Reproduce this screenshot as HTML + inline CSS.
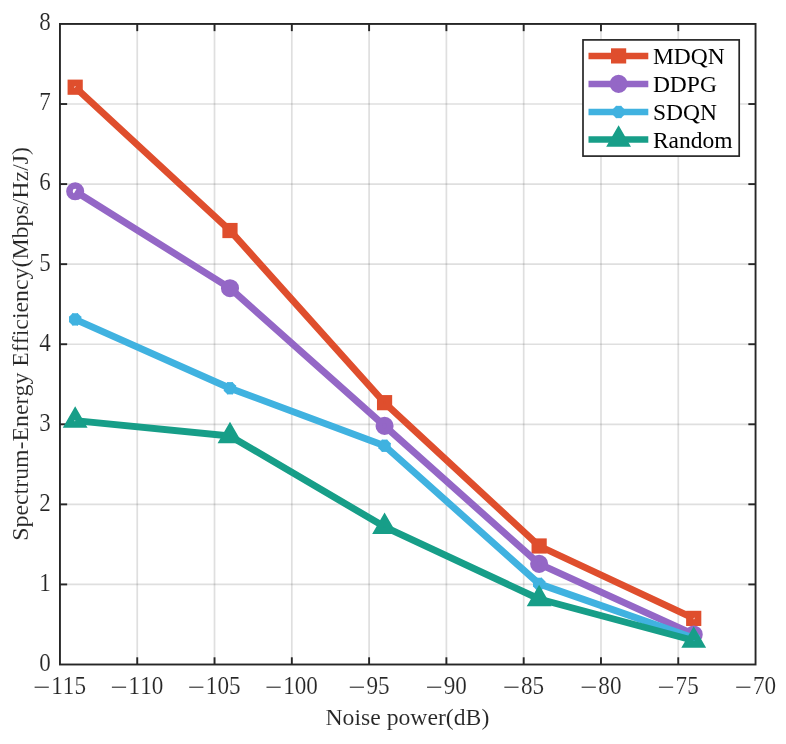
<!DOCTYPE html>
<html><head><meta charset="utf-8"><title>chart</title>
<style>
html,body{margin:0;padding:0;background:#fff;}
body{width:786px;height:744px;overflow:hidden;}
svg{display:block;will-change:transform;}
text{font-family:"Liberation Serif",serif;fill:#262626;font-kerning:none;}
.tk{stroke:#fff;stroke-width:0.15px;}
.lb{stroke:#fff;stroke-width:0.08px;}
</style></head><body>
<svg width="786" height="744" viewBox="0 0 786 744">
<rect x="0" y="0" width="786" height="744" fill="#ffffff"/>

<g stroke="#262626" stroke-opacity="0.15" stroke-width="1.7">
<line x1="137.24" y1="23.95" x2="137.24" y2="664.5"/>
<line x1="214.53" y1="23.95" x2="214.53" y2="664.5"/>
<line x1="291.82" y1="23.95" x2="291.82" y2="664.5"/>
<line x1="369.11" y1="23.95" x2="369.11" y2="664.5"/>
<line x1="446.39" y1="23.95" x2="446.39" y2="664.5"/>
<line x1="523.68" y1="23.95" x2="523.68" y2="664.5"/>
<line x1="600.97" y1="23.95" x2="600.97" y2="664.5"/>
<line x1="678.26" y1="23.95" x2="678.26" y2="664.5"/>
<line x1="59.95" y1="584.43" x2="755.55" y2="584.43"/>
<line x1="59.95" y1="504.36" x2="755.55" y2="504.36"/>
<line x1="59.95" y1="424.29" x2="755.55" y2="424.29"/>
<line x1="59.95" y1="344.23" x2="755.55" y2="344.23"/>
<line x1="59.95" y1="264.16" x2="755.55" y2="264.16"/>
<line x1="59.95" y1="184.09" x2="755.55" y2="184.09"/>
<line x1="59.95" y1="104.02" x2="755.55" y2="104.02"/>
</g>
<g stroke="#262626" stroke-width="1.9" fill="none">
<rect x="59.95" y="23.95" width="695.60" height="640.55"/>
<line x1="137.24" y1="664.5" x2="137.24" y2="657.3"/>
<line x1="137.24" y1="23.95" x2="137.24" y2="31.15"/>
<line x1="214.53" y1="664.5" x2="214.53" y2="657.3"/>
<line x1="214.53" y1="23.95" x2="214.53" y2="31.15"/>
<line x1="291.82" y1="664.5" x2="291.82" y2="657.3"/>
<line x1="291.82" y1="23.95" x2="291.82" y2="31.15"/>
<line x1="369.11" y1="664.5" x2="369.11" y2="657.3"/>
<line x1="369.11" y1="23.95" x2="369.11" y2="31.15"/>
<line x1="446.39" y1="664.5" x2="446.39" y2="657.3"/>
<line x1="446.39" y1="23.95" x2="446.39" y2="31.15"/>
<line x1="523.68" y1="664.5" x2="523.68" y2="657.3"/>
<line x1="523.68" y1="23.95" x2="523.68" y2="31.15"/>
<line x1="600.97" y1="664.5" x2="600.97" y2="657.3"/>
<line x1="600.97" y1="23.95" x2="600.97" y2="31.15"/>
<line x1="678.26" y1="664.5" x2="678.26" y2="657.3"/>
<line x1="678.26" y1="23.95" x2="678.26" y2="31.15"/>
<line x1="59.95" y1="584.43" x2="67.15" y2="584.43"/>
<line x1="755.55" y1="584.43" x2="748.3499999999999" y2="584.43"/>
<line x1="59.95" y1="504.36" x2="67.15" y2="504.36"/>
<line x1="755.55" y1="504.36" x2="748.3499999999999" y2="504.36"/>
<line x1="59.95" y1="424.29" x2="67.15" y2="424.29"/>
<line x1="755.55" y1="424.29" x2="748.3499999999999" y2="424.29"/>
<line x1="59.95" y1="344.23" x2="67.15" y2="344.23"/>
<line x1="755.55" y1="344.23" x2="748.3499999999999" y2="344.23"/>
<line x1="59.95" y1="264.16" x2="67.15" y2="264.16"/>
<line x1="755.55" y1="264.16" x2="748.3499999999999" y2="264.16"/>
<line x1="59.95" y1="184.09" x2="67.15" y2="184.09"/>
<line x1="755.55" y1="184.09" x2="748.3499999999999" y2="184.09"/>
<line x1="59.95" y1="104.02" x2="67.15" y2="104.02"/>
<line x1="755.55" y1="104.02" x2="748.3499999999999" y2="104.02"/>
</g>
<polyline fill="none" stroke="#DF4E2D" stroke-width="6.9" stroke-linejoin="round" points="75.18,87.20 229.99,230.53 384.56,402.68 539.14,546.00 693.72,618.38"/>
<rect x="71.00" y="83.03" width="8.35" height="8.35" fill="none" stroke="#DF4E2D" stroke-width="6.85"/>
<rect x="225.81" y="226.35" width="8.35" height="8.35" fill="none" stroke="#DF4E2D" stroke-width="6.85"/>
<rect x="380.39" y="398.50" width="8.35" height="8.35" fill="none" stroke="#DF4E2D" stroke-width="6.85"/>
<rect x="534.97" y="541.82" width="8.35" height="8.35" fill="none" stroke="#DF4E2D" stroke-width="6.85"/>
<rect x="689.54" y="614.21" width="8.35" height="8.35" fill="none" stroke="#DF4E2D" stroke-width="6.85"/>
<polyline fill="none" stroke="#9467C6" stroke-width="6.9" stroke-linejoin="round" points="75.18,191.29 229.99,288.18 384.56,425.90 539.14,563.85 693.72,634.47"/>
<circle cx="75.18" cy="191.29" r="5.75" fill="none" stroke="#9467C6" stroke-width="6.6"/>
<circle cx="229.99" cy="288.18" r="5.75" fill="none" stroke="#9467C6" stroke-width="6.6"/>
<circle cx="384.56" cy="425.90" r="5.75" fill="none" stroke="#9467C6" stroke-width="6.6"/>
<circle cx="539.14" cy="563.85" r="5.75" fill="none" stroke="#9467C6" stroke-width="6.6"/>
<circle cx="693.72" cy="634.47" r="5.75" fill="none" stroke="#9467C6" stroke-width="6.6"/>
<polyline fill="none" stroke="#40B2E0" stroke-width="6.9" stroke-linejoin="round" points="75.18,319.40 229.99,388.26 384.56,445.75 539.14,583.87 693.72,638.08"/>
<g stroke="#40B2E0" stroke-width="5.6"><line x1="69.03" y1="319.40" x2="81.33" y2="319.40"/><line x1="75.18" y1="313.25" x2="75.18" y2="325.55"/><line x1="70.83" y1="315.06" x2="79.52" y2="323.75"/><line x1="70.83" y1="323.75" x2="79.52" y2="315.06"/></g>
<g stroke="#40B2E0" stroke-width="5.6"><line x1="223.84" y1="388.26" x2="236.14" y2="388.26"/><line x1="229.99" y1="382.11" x2="229.99" y2="394.41"/><line x1="225.64" y1="383.91" x2="234.33" y2="392.61"/><line x1="225.64" y1="392.61" x2="234.33" y2="383.91"/></g>
<g stroke="#40B2E0" stroke-width="5.6"><line x1="378.41" y1="445.75" x2="390.71" y2="445.75"/><line x1="384.56" y1="439.60" x2="384.56" y2="451.90"/><line x1="380.21" y1="441.40" x2="388.91" y2="450.10"/><line x1="380.21" y1="450.10" x2="388.91" y2="441.40"/></g>
<g stroke="#40B2E0" stroke-width="5.6"><line x1="532.99" y1="583.87" x2="545.29" y2="583.87"/><line x1="539.14" y1="577.72" x2="539.14" y2="590.02"/><line x1="534.79" y1="579.52" x2="543.49" y2="588.22"/><line x1="534.79" y1="588.22" x2="543.49" y2="579.52"/></g>
<g stroke="#40B2E0" stroke-width="5.6"><line x1="687.57" y1="638.08" x2="699.87" y2="638.08"/><line x1="693.72" y1="631.93" x2="693.72" y2="644.23"/><line x1="689.37" y1="633.73" x2="698.07" y2="642.43"/><line x1="689.37" y1="642.43" x2="698.07" y2="633.73"/></g>
<polyline fill="none" stroke="#179E88" stroke-width="6.9" stroke-linejoin="round" points="75.18,420.61 229.99,435.98 384.56,526.78 539.14,599.00 693.72,640.48"/>
<path fill-rule="evenodd" fill="#179E88" d="M75.18,406.28L87.58,427.78L62.78,427.78Z M74.58,420.01h1.2v1.2h-1.2Z"/>
<path fill-rule="evenodd" fill="#179E88" d="M229.99,421.65L242.39,443.15L217.59,443.15Z M229.39,435.38h1.2v1.2h-1.2Z"/>
<path fill-rule="evenodd" fill="#179E88" d="M384.56,512.45L396.96,533.95L372.16,533.95Z M383.96,526.18h1.2v1.2h-1.2Z"/>
<path fill-rule="evenodd" fill="#179E88" d="M539.14,584.67L551.54,606.17L526.74,606.17Z M538.54,598.40h1.2v1.2h-1.2Z"/>
<path fill-rule="evenodd" fill="#179E88" d="M693.72,626.15L706.12,647.65L681.32,647.65Z M693.12,639.88h1.2v1.2h-1.2Z"/>
<text transform="translate(50.7,670.85) scale(0.96,1.06)" class="tk" font-size="24" text-anchor="end">0</text>
<text transform="translate(50.7,590.78) scale(0.96,1.06)" class="tk" font-size="24" text-anchor="end">1</text>
<text transform="translate(50.7,510.71) scale(0.96,1.06)" class="tk" font-size="24" text-anchor="end">2</text>
<text transform="translate(50.7,430.64) scale(0.96,1.06)" class="tk" font-size="24" text-anchor="end">3</text>
<text transform="translate(50.7,350.58) scale(0.96,1.06)" class="tk" font-size="24" text-anchor="end">4</text>
<text transform="translate(50.7,270.51) scale(0.96,1.06)" class="tk" font-size="24" text-anchor="end">5</text>
<text transform="translate(50.7,190.44) scale(0.96,1.06)" class="tk" font-size="24" text-anchor="end">6</text>
<text transform="translate(50.7,110.37) scale(0.96,1.06)" class="tk" font-size="24" text-anchor="end">7</text>
<text transform="translate(50.7,30.30) scale(0.96,1.06)" class="tk" font-size="24" text-anchor="end">8</text>
<line x1="34.61" y1="687.2" x2="48.81" y2="687.2" stroke="#262626" stroke-width="1.1"/>
<text transform="translate(51.29,693.8) scale(0.965,1.07)" class="tk" font-size="24">115</text>
<line x1="111.90" y1="687.2" x2="126.10" y2="687.2" stroke="#262626" stroke-width="1.1"/>
<text transform="translate(128.57,693.8) scale(0.965,1.07)" class="tk" font-size="24">110</text>
<line x1="189.19" y1="687.2" x2="203.39" y2="687.2" stroke="#262626" stroke-width="1.1"/>
<text transform="translate(205.86,693.8) scale(0.965,1.07)" class="tk" font-size="24">105</text>
<line x1="266.48" y1="687.2" x2="280.68" y2="687.2" stroke="#262626" stroke-width="1.1"/>
<text transform="translate(283.15,693.8) scale(0.965,1.07)" class="tk" font-size="24">100</text>
<line x1="349.77" y1="687.2" x2="363.97" y2="687.2" stroke="#262626" stroke-width="1.1"/>
<text transform="translate(366.44,693.8) scale(0.965,1.07)" class="tk" font-size="24">95</text>
<line x1="427.06" y1="687.2" x2="441.26" y2="687.2" stroke="#262626" stroke-width="1.1"/>
<text transform="translate(443.73,693.8) scale(0.965,1.07)" class="tk" font-size="24">90</text>
<line x1="504.35" y1="687.2" x2="518.55" y2="687.2" stroke="#262626" stroke-width="1.1"/>
<text transform="translate(521.02,693.8) scale(0.965,1.07)" class="tk" font-size="24">85</text>
<line x1="581.64" y1="687.2" x2="595.84" y2="687.2" stroke="#262626" stroke-width="1.1"/>
<text transform="translate(598.31,693.8) scale(0.965,1.07)" class="tk" font-size="24">80</text>
<line x1="658.93" y1="687.2" x2="673.13" y2="687.2" stroke="#262626" stroke-width="1.1"/>
<text transform="translate(675.60,693.8) scale(0.965,1.07)" class="tk" font-size="24">75</text>
<line x1="736.21" y1="687.2" x2="750.41" y2="687.2" stroke="#262626" stroke-width="1.1"/>
<text transform="translate(752.89,693.8) scale(0.965,1.07)" class="tk" font-size="24">70</text>
<text x="407.4" y="725.3" font-size="23.7" class="lb" text-anchor="middle">Noise power(dB)</text>
<text transform="translate(27.6,343.9) rotate(-90)" font-size="23.83" class="lb" text-anchor="middle">Spectrum-Energy Efficiency(Mbps/Hz/J)</text>
<rect x="583" y="39.9" width="156.2" height="116.2" fill="#fff" stroke="#262626" stroke-width="1.7"/>
<line x1="588.5" y1="55.9" x2="648.3" y2="55.9" stroke="#DF4E2D" stroke-width="6.5"/>
<rect x="614.43" y="51.73" width="8.35" height="8.35" fill="none" stroke="#DF4E2D" stroke-width="6.85"/>
<text x="652.9" y="64.10" font-size="23.5" style="fill:#000;stroke:none">MDQN</text>
<line x1="588.5" y1="83.9" x2="648.3" y2="83.9" stroke="#9467C6" stroke-width="6.5"/>
<circle cx="618.60" cy="83.90" r="5.75" fill="none" stroke="#9467C6" stroke-width="6.6"/>
<text x="652.9" y="92.10" font-size="23.5" style="fill:#000;stroke:none">DDPG</text>
<line x1="588.5" y1="112.0" x2="648.3" y2="112.0" stroke="#40B2E0" stroke-width="6.5"/>
<g stroke="#40B2E0" stroke-width="5.6"><line x1="612.45" y1="112.00" x2="624.75" y2="112.00"/><line x1="618.60" y1="105.85" x2="618.60" y2="118.15"/><line x1="614.25" y1="107.65" x2="622.95" y2="116.35"/><line x1="614.25" y1="116.35" x2="622.95" y2="107.65"/></g>
<text x="652.9" y="120.20" font-size="23.5" style="fill:#000;stroke:none">SDQN</text>
<line x1="588.5" y1="139.6" x2="648.3" y2="139.6" stroke="#179E88" stroke-width="6.5"/>
<path fill-rule="evenodd" fill="#179E88" d="M618.60,125.27L631.00,146.77L606.20,146.77Z M618.00,139.00h1.2v1.2h-1.2Z"/>
<text x="652.9" y="147.80" font-size="23.5" style="fill:#000;stroke:none">Random</text>
</svg></body></html>
